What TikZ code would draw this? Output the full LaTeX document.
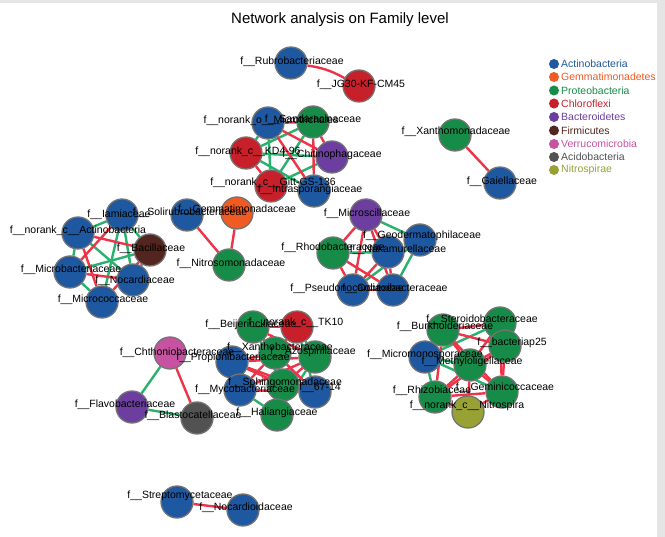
\documentclass[tikz,border=0pt]{standalone}
\usepackage{fontspec}
\setmainfont{Liberation Sans}
\usepackage{xcolor}
\usepackage{tikz}
\usetikzlibrary{backgrounds}
\definecolor{actc}{RGB}{30,88,160}
\definecolor{gemc}{RGB}{240,90,35}
\definecolor{proc}{RGB}{22,140,72}
\definecolor{chlc}{RGB}{200,32,42}
\definecolor{bacc}{RGB}{108,62,160}
\definecolor{firc}{RGB}{82,38,30}
\definecolor{verc}{RGB}{200,82,162}
\definecolor{acic}{RGB}{82,82,82}
\definecolor{nitc}{RGB}{152,162,52}
\definecolor{posc}{RGB}{238,52,72}
\definecolor{negc}{RGB}{40,178,110}
\newcommand{\ff}{f\_\_}

\begin{document}
\begin{tikzpicture}[
  x=1pt, y=-1pt,
  every node/.style={font=\fontsize{10.5}{12}\selectfont},
  fam/.style={circle, draw=black!55, line width=1.3pt, minimum size=32pt,
              inner sep=0pt},
  act/.style={fam, fill=actc},
  gem/.style={fam, fill=gemc},
  pro/.style={fam, fill=proc},
  chl/.style={fam, fill=chlc},
  bct/.style={fam, fill=bacc},
  fir/.style={fam, fill=firc},
  ver/.style={fam, fill=verc},
  aci/.style={fam, fill=acic},
  nit/.style={fam, fill=nitc},
  lbl/.style={inner sep=0pt, text=black},
  poslink/.style={draw=posc, line width=2.4pt},
  neglink/.style={draw=negc, line width=2.4pt},
  dot/.style={circle, inner sep=0pt, minimum size=10pt},
  key/.style={anchor=west, inner sep=0pt}
]
\useasboundingbox (0,0) rectangle (665,537);

\node[font=\fontsize{15}{18}\selectfont] (title) at (340,20)
      {Network analysis on Family level};

% isolated pairs
\node[act] (rubro) at (291,63) {};
\node[chl] (jg30) at (359,86) {};
\node[pro] (xanm) at (455,135) {};
\node[act] (gaie) at (500,183) {};
\node[act] (strep) at (177,502) {};
\node[act] (nocd) at (243,510) {};

% upper cluster
\node[act] (micro) at (268,123) {};
\node[pro] (sanda) at (313,122) {};
\node[chl] (kd) at (246,153) {};
\node[bct] (chit) at (332,157) {};
\node[chl] (gitt) at (271,186) {};
\node[act] (intra) at (314,191) {};

% left cluster
\node[act] (iam) at (122,215) {};
\node[act] (actn) at (78,233) {};
\node[fir] (bac) at (150,250) {};
\node[act] (mbac) at (70,272) {};
\node[act] (noc) at (133,280) {};
\node[act] (mcoc) at (102,302) {};

% middle triangle
\node[act] (soli) at (187,215) {};
\node[gem] (gemma) at (237,213) {};
\node[pro] (nitros) at (229,265) {};

% right-middle cluster
\node[bct] (mscil) at (366,215) {};
\node[act] (geod) at (420,240) {};
\node[pro] (rhodo) at (333,253) {};
\node[act] (naka) at (388,252) {};
\node[act] (pseudo) at (353,290) {};
\node[act] (conexi) at (393,290) {};

% lower cluster
\node[pro] (bei) at (253,327) {};
\node[chl] (tk) at (297,327) {};
\node[act] (prop) at (232,362) {};
\node[pro] (xan) at (275,353) {};
\node[pro] (azo) at (315,357) {};
\node[act] (myco) at (240,390) {};
\node[pro] (sph) at (283,385) {};
\node[act] (sixseven) at (315,392) {};
\node[pro] (hal) at (277,415) {};

% lower-left triangle
\node[ver] (chth) at (170,353) {};
\node[bct] (flavo) at (132,407) {};
\node[aci] (blasto) at (197,418) {};

% lower-right cluster
\node[pro] (ster) at (500,323) {};
\node[pro] (burk) at (443,330) {};
\node[pro] (bpq) at (505,346) {};
\node[act] (mmon) at (425,357) {};
\node[pro] (methyl) at (470,365) {};
\node[pro] (rhiz) at (435,397) {};
\node[pro] (gemi) at (502,392) {};
\node[nit] (nitro) at (468,412) {};

\begin{scope}[on background layer]
\fill[white] (0,0) rectangle (665,537);
\fill[black!10] (0,0) rectangle (665,3);
\fill[black!10] (657,0) rectangle (665,537);
\draw[poslink] (rubro) to[bend left=10] (jg30);
\draw[poslink] (xanm) -- (gaie);
\draw[poslink] (strep) -- (nocd);
% upper cluster
\draw[neglink] (micro) -- (kd);
\draw[neglink] (micro) -- (gitt);
\draw[neglink] (kd) -- (sanda);
\draw[neglink] (kd) -- (chit);
\draw[neglink] (kd) -- (intra);
\draw[neglink] (gitt) -- (sanda);
\draw[neglink] (gitt) -- (chit);
\draw[poslink] (micro) -- (chit);
\draw[poslink] (micro) -- (intra);
\draw[poslink] (micro) -- (sanda);
\draw[poslink] (sanda) -- (intra);
\draw[poslink] (sanda) -- (chit);
\draw[poslink] (kd) -- (gitt);
% left cluster
\draw[neglink] (actn) -- (iam);
\draw[neglink] (actn) -- (mbac);
\draw[neglink] (mbac) -- (mcoc);
\draw[neglink] (iam) -- (noc);
\draw[neglink] (mbac) -- (bac);
\draw[neglink] (iam) -- (mcoc);
\draw[neglink] (iam) -- (bac);
\draw[neglink] (actn) -- (noc);
\draw[poslink] (actn) -- (bac);
\draw[poslink] (actn) -- (mcoc);
\draw[poslink] (mbac) -- (noc);
\draw[poslink] (bac) -- (noc);
\draw[poslink] (bac) -- (mcoc);
\draw[poslink] (mbac) -- (iam);
% middle triangle
\draw[poslink] (soli) -- (nitros);
\draw[poslink] (gemma) -- (nitros);
% right-middle cluster
\draw[neglink] (mscil) -- (geod);
\draw[neglink] (geod) -- (conexi);
\draw[neglink] (geod) -- (pseudo);
\draw[neglink] (rhodo) -- (naka);
\draw[poslink] (mscil) -- (rhodo);
\draw[poslink] (mscil) -- (pseudo);
\draw[poslink] (mscil) -- (conexi);
\draw[poslink] (mscil) -- (naka);
\draw[poslink] (rhodo) -- (pseudo);
\draw[poslink] (rhodo) -- (conexi);
\draw[poslink] (naka) -- (pseudo);
\draw[poslink] (naka) -- (conexi);
\draw[poslink] (pseudo) -- (conexi);
% lower cluster
\draw[neglink] (tk) -- (azo);
\draw[neglink] (tk) -- (sixseven);
\draw[neglink] (xan) -- (hal);
\draw[neglink] (myco) -- (hal);
\draw[neglink] (sph) -- (hal);
\draw[neglink] (bei) -- (sph);
\draw[neglink] (azo) -- (hal);
\draw[poslink] (bei) -- (tk);
\draw[poslink] (bei) -- (xan);
\draw[poslink] (bei) -- (azo);
\draw[poslink] (prop) -- (xan);
\draw[poslink] (prop) -- (sph);
\draw[poslink] (prop) -- (azo);
\draw[poslink] (prop) -- (sixseven);
\draw[poslink] (xan) -- (myco);
\draw[poslink] (xan) -- (sixseven);
\draw[poslink] (tk) -- (xan);
\draw[poslink] (azo) -- (sph);
\draw[poslink] (azo) -- (myco);
\draw[poslink] (sph) -- (sixseven);
\draw[poslink] (myco) -- (sixseven);
% lower-left triangle
\draw[neglink] (chth) -- (flavo);
\draw[neglink] (flavo) -- (blasto);
\draw[poslink] (chth) -- (blasto);
% lower-right cluster
\draw[neglink] (mmon) -- (burk);
\draw[neglink] (mmon) -- (ster);
\draw[neglink] (mmon) -- (rhiz);
\draw[neglink] (mmon) -- (gemi);
\draw[neglink] (mmon) -- (methyl);
\draw[poslink] (burk) -- (ster);
\draw[poslink] (burk) -- (bpq);
\draw[poslink] (burk) -- (methyl);
\draw[poslink] (burk) -- (gemi);
\draw[poslink] (burk) -- (rhiz);
\draw[poslink] (ster) -- (bpq);
\draw[poslink] (ster) -- (methyl);
\draw[poslink] (ster) -- (gemi);
\draw[poslink] (bpq) -- (methyl);
\draw[poslink] (bpq) -- (gemi);
\draw[poslink] (bpq) -- (rhiz);
\draw[poslink] (methyl) -- (gemi);
\draw[poslink] (methyl) -- (rhiz);
\draw[poslink] (methyl) -- (nitro);
\draw[poslink] (rhiz) -- (nitro);
\draw[poslink] (rhiz) -- (gemi);
\draw[poslink] (gemi) -- (nitro);
\end{scope}

% labels
\node[lbl] (rubro-l) at (292,62) {\ff Rubrobacteriaceae};
\node[lbl] (jg30-l) at (361,85) {\ff JG30-KF-CM45};
\node[lbl] (xanm-l) at (456,132) {\ff Xanthomonadaceae};
\node[lbl] (gaie-l) at (502,182) {\ff Gaiellaceae};
\node[lbl] (strep-l) at (180,496) {\ff Streptomycetaceae};
\node[lbl] (nocd-l) at (246,508) {\ff Nocardioidaceae};
\node[lbl] (micro-l) at (271,121) {\ff norank\_o\_\_Microtrichales};
\node[lbl] (sanda-l) at (313,120) {\ff Sandaracinaceae};
\node[lbl] (kd-l) at (248,152) {\ff norank\_c\_\_KD4-96};
\node[lbl] (chit-l) at (332,155) {\ff Chitinophagaceae};
\node[lbl] (gitt-l) at (273,183) {\ff norank\_c\_\_Gitt-GS-136};
\node[lbl] (intra-l) at (310,190) {\ff Intrasporangiaceae};
\node[lbl] (iam-l) at (119,215) {\ff Iamiaceae};
\node[lbl] (actn-l) at (78,231) {\ff norank\_c\_\_Actinobacteria};
\node[lbl] (bac-l) at (151,249) {\ff Bacillaceae};
\node[lbl] (mbac-l) at (71,270) {\ff Microbacteriaceae};
\node[lbl] (noc-l) at (135,281) {\ff Nocardiaceae};
\node[lbl] (mcoc-l) at (103,300) {\ff Micrococcaceae};
\node[lbl] (soli-l) at (190,213) {\ff Solirubrobacteraceae};
\node[lbl] (gemma-l) at (237,210) {\ff Gemmatimonadaceae};
\node[lbl] (nitros-l) at (231,264) {\ff Nitrosomonadaceae};
\node[lbl] (mscil-l) at (367,214) {\ff Microscillaceae};
\node[lbl] (geod-l) at (422,236) {\ff Geodermatophilaceae};
\node[lbl] (rhodo-l) at (333,248) {\ff Rhodobacteraceae};
\node[lbl] (naka-l) at (398,250) {\ff Nakamurellaceae};
\node[lbl] (pseudo-l) at (347,289) {\ff Pseudonocardiaceae};
\node[lbl] (conexi-l) at (395,289) {\ff Conexibacteraceae};
\node[lbl] (bei-l) at (251,325) {\ff Beijerinckiaceae};
\node[lbl] (tk-l) at (296,323) {\ff norank\_c\_\_TK10};
\node[lbl] (prop-l) at (233,358) {\ff Propionibacteriaceae};
\node[lbl] (xan-l) at (280,348) {\ff Xanthobacteraceae};
\node[lbl] (azo-l) at (313,352) {\ff Azospirillaceae};
\node[lbl] (myco-l) at (245,390) {\ff Mycobacteriaceae};
\node[lbl] (sph-l) at (285,383) {\ff Sphingomonadaceae};
\node[lbl] (sixseven-l) at (320,388) {\ff 67-14};
\node[lbl] (hal-l) at (277,413) {\ff Haliangiaceae};
\node[lbl] (chth-l) at (177,353) {\ff Chthoniobacteraceae};
\node[lbl] (flavo-l) at (125,405) {\ff Flavobacteriaceae};
\node[lbl] (blasto-l) at (193,416) {\ff Blastocatellaceae};
\node[lbl] (ster-l) at (482,320) {\ff Steroidobacteraceae};
\node[lbl] (burk-l) at (445,327) {\ff Burkholderiaceae};
\node[lbl] (bpq-l) at (512,343) {\ff bacteriap25};
\node[lbl] (mmon-l) at (425,355) {\ff Micromonosporaceae};
\node[lbl] (methyl-l) at (472,362) {\ff Methyloligellaceae};
\node[lbl] (rhiz-l) at (432,391) {\ff Rhizobiaceae};
\node[lbl] (gemi-l) at (505,388) {\ff Geminicoccaceae};
\node[lbl] (nitro-l) at (467,406) {\ff norank\_c\_\_Nitrospira};

% legend
\node[dot, fill=actc] (k1) at (554,64) {};
\node[key, text=actc] (k1-l) at (561,64) {Actinobacteria};
\node[dot, fill=gemc] (k2) at (554,77) {};
\node[key, text=gemc] (k2-l) at (561,77) {Gemmatimonadetes};
\node[dot, fill=proc] (k3) at (554,90.5) {};
\node[key, text=proc] (k3-l) at (561,90.5) {Proteobacteria};
\node[dot, fill=chlc] (k4) at (554,103.5) {};
\node[key, text=chlc] (k4-l) at (561,103.5) {Chloroflexi};
\node[dot, fill=bacc] (k5) at (554,117) {};
\node[key, text=bacc] (k5-l) at (561,117) {Bacteroidetes};
\node[dot, fill=firc] (k6) at (554,130.5) {};
\node[key, text=firc] (k6-l) at (561,130.5) {Firmicutes};
\node[dot, fill=verc] (k7) at (554,144) {};
\node[key, text=verc] (k7-l) at (561,144) {Verrucomicrobia};
\node[dot, fill=acic] (k8) at (554,157) {};
\node[key, text=acic] (k8-l) at (561,157) {Acidobacteria};
\node[dot, fill=nitc] (k9) at (554,170) {};
\node[key, text=nitc] (k9-l) at (561,170) {Nitrospirae};
\end{tikzpicture}
\end{document}
